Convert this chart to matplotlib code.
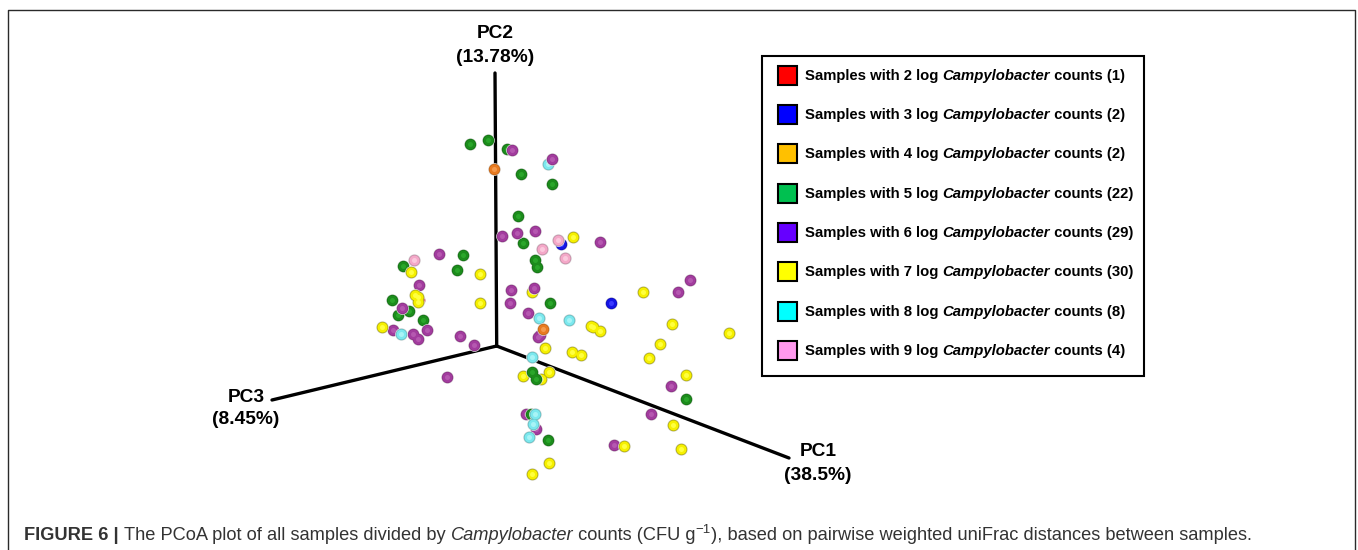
import matplotlib
matplotlib.use('Agg')
import matplotlib.pyplot as plt
from matplotlib.patches import Rectangle

plt.rcParams['font.family'] = ['Liberation Sans', 'DejaVu Sans']

# points, one pair of lists per group
red_x = [419.3]
red_y = [300.3]
blue_x = [560.7, 611.3]
blue_y = [243.7, 302.7]
orange_x = [494, 543.3]
orange_y = [169.3, 329.3]
green_x = [470.3, 488, 507.3, 521.3, 551.7, 517.7, 522.7, 535.3, 536.7, 462.7, 456.7,
           403, 392, 409, 398, 422.7, 550, 548, 686.3]
green_y = [144, 139.7, 148.7, 174, 183.7, 215.7, 243.3, 260, 267, 255.3, 270,
           265.7, 300, 311.3, 315.3, 319.7, 303.3, 440, 399]
# these greens sit in front of the yellow and purple balls
green_front_x = [532.3, 535.7, 530.7]
green_front_y = [372.3, 379, 414]
purple_x = [512.3, 502.3, 517, 534.7, 600.3, 439, 419.3, 402.3, 393.3, 413.3, 418, 427, 460, 473.7,
            511.3, 509.7, 528.3, 538.3, 540, 690, 677.7, 446.7, 670.7, 650.7, 526, 535.7, 614.3]
purple_y = [149.7, 236, 233, 230.7, 242, 254, 285, 308, 330, 333.7, 339.3, 329.7, 335.7, 345.3,
            290, 303.3, 312.7, 337, 335, 280, 292, 377.3, 386, 414, 413.7, 429, 444.7]
# these purples sit in front of a cyan and a yellow ball
purple_front_x = [552, 533.7]
purple_front_y = [159, 288]
yellow_x = [573.3, 411, 480.3, 415, 418, 418, 480.3, 532, 643, 381.7, 591, 592.5, 600, 672.3, 729, 659.7,
            544.7, 572, 581.3, 649, 522.7, 549.3, 541.3, 685.7, 672.7, 624, 681, 549, 532.3]
yellow_y = [237.3, 272, 274.3, 295, 296.7, 302.3, 303, 292, 292, 327, 325.5, 326.5, 330.7, 323.7, 333.3, 344.3,
            347.7, 352, 355.3, 358, 375.7, 372, 379.3, 375, 424.7, 446.3, 449, 463.3, 474]
cyan_x = [548, 538.7, 569.3, 401, 532, 535.3, 532.7, 529.3]
cyan_y = [164.3, 317.7, 320, 334.3, 357.3, 414.3, 424, 437.3]
pink_x = [414, 558, 541.7, 565]
pink_y = [260, 240, 248.7, 257.7]

legend_counts = [2, 3, 4, 5, 6, 7, 8, 9]
legend_n = [1, 2, 2, 22, 29, 30, 8, 4]
legend_colors = ['#ff0000', '#0000ff', '#ffc000', '#00c050', '#6600ff', '#ffff00', '#00ffff', '#ff99ee']

fig = plt.figure(figsize=(13.58, 5.5), dpi=100)
ax = fig.add_axes([0, 0, 1, 1])
ax.set_xlim(0, 1358)
ax.set_ylim(550, 0)
ax.axis('off')


def spheres(xs, ys, color, dark, light, z):
    # stacked discs give the shaded ball look
    ax.scatter(xs, ys, s=84, c='#e2e2e2', linewidths=0, zorder=z)
    ax.scatter(xs, ys, s=68, c=dark, linewidths=0, zorder=z + 0.1)
    ax.scatter(xs, ys, s=52, c=color, linewidths=0, zorder=z + 0.2)
    ax.scatter(xs, ys, s=13, c=light, linewidths=0, zorder=z + 0.3)


def text_run(x, y, pieces, size, color='black'):
    # put bold/italic pieces one after the other on one baseline
    r = fig.canvas.get_renderer()
    for s, weight, style in pieces:
        ax.text(x, y, s, fontsize=size, fontweight=weight, fontstyle=style, color=color,
                va='baseline', ha='left', zorder=20)
        a = ax.text(0, 0, s + '|', fontsize=size, fontweight=weight, fontstyle=style)
        b = ax.text(0, 0, '|', fontsize=size, fontweight=weight, fontstyle=style)
        x += a.get_window_extent(r).width - b.get_window_extent(r).width
        a.remove()
        b.remove()
    return x


# outer frame
ax.plot([8.3, 8.3, 1355, 1355], [550, 9.8, 9.8, 550], color='#2a2a2a', lw=1.0, zorder=1)

# axes of the ordination
ax.plot([496.7, 495], [346, 73], color='black', lw=2.4, zorder=2, solid_capstyle='round')
ax.plot([496.7, 272], [346, 400], color='black', lw=2.4, zorder=2, solid_capstyle='round')
ax.plot([496.7, 789], [346, 458], color='black', lw=2.4, zorder=2, solid_capstyle='round')

spheres(red_x, red_y, '#f01010', '#c00c0c', '#ff5050', 3)
spheres(green_x, green_y, '#1c8c1c', '#146e14', '#2aa62a', 4)
spheres(purple_x, purple_y, '#a23c9e', '#86307f', '#b558b0', 5)
spheres(yellow_x, yellow_y, '#f6f000', '#a8a410', '#ffff40', 6)
spheres(green_front_x, green_front_y, '#1c8c1c', '#146e14', '#2aa62a', 7)
spheres(cyan_x, cyan_y, '#7ce8ee', '#62b8bc', '#a8f4f6', 8)
spheres(purple_front_x, purple_front_y, '#a23c9e', '#86307f', '#b558b0', 9)
spheres(blue_x, blue_y, '#1414e6', '#0e0eb4', '#3a3aff', 10)
spheres(pink_x, pink_y, '#f4a8c8', '#c08aa2', '#fbc8dd', 11)
spheres(orange_x, orange_y, '#e87a20', '#bc6418', '#f59a4c', 12)

# axis names
for x, y, name, pct in [(495, 34, 'PC2', '(13.78%)'), (246, 397, 'PC3', '(8.45%)'), (818, 452, 'PC1', '(38.5%)')]:
    ax.text(x, y, name, fontsize=13.8, fontweight='bold', ha='center', va='center', zorder=20)
    ax.text(x, y + 23, pct, fontsize=13.8, fontweight='bold', ha='center', va='center', zorder=20)

# legend box
ax.add_patch(Rectangle((762, 56), 382, 320, fc='white', ec='black', lw=1.5, zorder=15))
legend_y = [75, 114, 153, 193, 232, 271, 311, 350]
for c, n, col, y in zip(legend_counts, legend_n, legend_colors, legend_y):
    ax.add_patch(Rectangle((777.5, y - 9.5), 19, 19, fc=col, ec='black', lw=1.5, zorder=16))
    text_run(805, y + 5, [('Samples with %d log ' % c, 'bold', 'normal'),
                          ('Campylobacter', 'bold', 'italic'),
                          (' counts (%d)' % n, 'bold', 'normal')], 10.75)

# caption
cap = '#333333'
x = text_run(24, 540, [('FIGURE 6 | ', 'bold', 'normal'),
                       ('The PCoA plot of all samples divided by ', 'normal', 'normal'),
                       ('Campylobacter', 'normal', 'italic'),
                       (' counts (CFU g', 'normal', 'normal')], 13.15, cap)
x = text_run(x, 533, [('\u22121', 'normal', 'normal')], 9.5, cap)
text_run(x, 540, [('), based on pairwise weighted uniFrac distances between samples.', 'normal', 'normal')], 13.15, cap)

fig.savefig('out.png', dpi=100)
